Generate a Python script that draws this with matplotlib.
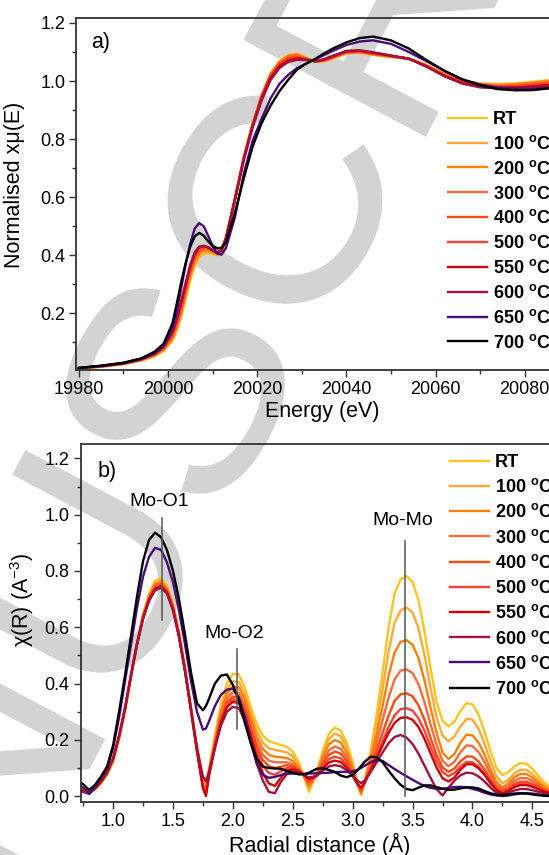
import numpy as np
import matplotlib

matplotlib.use("Agg")
import matplotlib.pyplot as plt
from matplotlib.ticker import MultipleLocator
from matplotlib.textpath import TextPath
from matplotlib.font_manager import FontProperties
from matplotlib.patches import PathPatch
from matplotlib.transforms import Affine2D

plt.rcParams["font.family"] = ["Liberation Sans", "DejaVu Sans"]
plt.rcParams["mathtext.fontset"] = "custom"
plt.rcParams["mathtext.rm"] = "Liberation Sans"
plt.rcParams["mathtext.bf"] = "Liberation Sans:bold"
plt.rcParams["mathtext.it"] = "Liberation Sans:italic"

# Series names and colours
labels = ["RT", "100", "200", "300", "400", "500", "550", "600", "650", "700"]
colors = ["#FFC41F", "#FFA936", "#FF8000", "#FF6A3D", "#FF4A10",
          "#FF4136", "#D00000", "#A3123F", "#4B0A78", "#000000"]

# ---- a) XANES ----
energy = [19980, 19985, 19990, 19994, 19997, 19999,
          20001, 20002, 20003, 20004, 20005, 20006, 20007, 20008, 20009, 20010, 20011, 20012, 20013,
          20015, 20017, 20019, 20021, 20023, 20025, 20027, 20029, 20031, 20033, 20035, 20037,
          20040, 20043, 20046,
          20050, 20054, 20058, 20062, 20066, 20070, 20074, 20078, 20082, 20086, 20090]

xanes_rt = [0.010, 0.016, 0.025, 0.037, 0.052, 0.070,
            0.105, 0.140, 0.190, 0.250, 0.315, 0.362, 0.392, 0.405, 0.408, 0.404, 0.400, 0.408, 0.450,
            0.585, 0.730, 0.850, 0.950, 1.025, 1.068, 1.090, 1.095, 1.080, 1.068, 1.068, 1.078,
            1.095, 1.097, 1.090,
            1.082, 1.077, 1.055, 1.025, 1.002, 0.992, 0.990, 0.992, 0.998, 1.004, 1.008]
xanes_100 = [0.010, 0.016, 0.026, 0.038, 0.054, 0.073,
             0.110, 0.147, 0.198, 0.260, 0.325, 0.370, 0.398, 0.410, 0.412, 0.407, 0.402, 0.410, 0.452,
             0.587, 0.732, 0.851, 0.950, 1.024, 1.067, 1.089, 1.093, 1.079, 1.067, 1.068, 1.079,
             1.096, 1.098, 1.091,
             1.083, 1.077, 1.055, 1.024, 1.001, 0.990, 0.988, 0.990, 0.996, 1.002, 1.006]
xanes_200 = [0.011, 0.017, 0.026, 0.039, 0.055, 0.075,
             0.115, 0.153, 0.205, 0.268, 0.333, 0.378, 0.405, 0.416, 0.417, 0.411, 0.405, 0.413, 0.455,
             0.590, 0.734, 0.852, 0.950, 1.023, 1.065, 1.087, 1.091, 1.078, 1.067, 1.069, 1.080,
             1.097, 1.099, 1.092,
             1.084, 1.077, 1.054, 1.023, 1.000, 0.989, 0.986, 0.988, 0.994, 1.000, 1.004]
xanes_300 = [0.011, 0.017, 0.027, 0.040, 0.057, 0.077,
             0.120, 0.160, 0.213, 0.276, 0.340, 0.385, 0.411, 0.421, 0.421, 0.414, 0.407, 0.415, 0.457,
             0.592, 0.735, 0.852, 0.949, 1.021, 1.063, 1.084, 1.088, 1.077, 1.067, 1.070, 1.081,
             1.098, 1.100, 1.093,
             1.085, 1.077, 1.053, 1.022, 0.999, 0.987, 0.984, 0.985, 0.991, 0.997, 1.001]
xanes_400 = [0.011, 0.018, 0.027, 0.041, 0.058, 0.079,
             0.124, 0.166, 0.220, 0.284, 0.347, 0.392, 0.417, 0.426, 0.425, 0.417, 0.409, 0.417, 0.459,
             0.593, 0.735, 0.851, 0.947, 1.018, 1.060, 1.080, 1.085, 1.076, 1.067, 1.071, 1.082,
             1.099, 1.101, 1.094,
             1.086, 1.077, 1.052, 1.021, 0.997, 0.985, 0.982, 0.983, 0.988, 0.994, 0.998]
xanes_500 = [0.011, 0.018, 0.028, 0.042, 0.059, 0.081,
             0.128, 0.172, 0.227, 0.291, 0.353, 0.398, 0.421, 0.429, 0.427, 0.418, 0.410, 0.418, 0.460,
             0.594, 0.735, 0.850, 0.945, 1.015, 1.057, 1.077, 1.082, 1.075, 1.067, 1.072, 1.083,
             1.100, 1.102, 1.095,
             1.086, 1.077, 1.051, 1.019, 0.995, 0.983, 0.980, 0.981, 0.985, 0.991, 0.995]
xanes_550 = [0.012, 0.019, 0.028, 0.043, 0.061, 0.084,
             0.134, 0.180, 0.236, 0.300, 0.361, 0.405, 0.427, 0.432, 0.428, 0.418, 0.410, 0.418, 0.460,
             0.593, 0.733, 0.847, 0.941, 1.011, 1.052, 1.072, 1.078, 1.074, 1.068, 1.074, 1.085,
             1.102, 1.104, 1.097,
             1.087, 1.077, 1.050, 1.018, 0.993, 0.981, 0.978, 0.978, 0.982, 0.987, 0.991]
xanes_600 = [0.012, 0.019, 0.029, 0.044, 0.063, 0.087,
             0.140, 0.188, 0.245, 0.308, 0.368, 0.410, 0.430, 0.433, 0.427, 0.416, 0.408, 0.416, 0.457,
             0.588, 0.727, 0.840, 0.933, 1.003, 1.045, 1.066, 1.073, 1.072, 1.068, 1.075, 1.087,
             1.104, 1.106, 1.099,
             1.088, 1.077, 1.049, 1.016, 0.991, 0.978, 0.975, 0.975, 0.978, 0.983, 0.987]
xanes_650 = [0.012, 0.018, 0.028, 0.042, 0.062, 0.088,
             0.148, 0.210, 0.290, 0.370, 0.440, 0.492, 0.511, 0.500, 0.468, 0.432, 0.406, 0.402, 0.425,
             0.530, 0.680, 0.795, 0.870, 0.940, 0.990, 1.022, 1.045, 1.060, 1.075, 1.090, 1.104,
             1.124, 1.136, 1.140,
             1.128, 1.100, 1.068, 1.035, 1.006, 0.988, 0.977, 0.973, 0.973, 0.976, 0.980]
xanes_700 = [0.012, 0.020, 0.030, 0.045, 0.068, 0.095,
             0.165, 0.235, 0.310, 0.375, 0.430, 0.465, 0.477, 0.468, 0.448, 0.432, 0.424, 0.426, 0.445,
             0.545, 0.665, 0.775, 0.855, 0.915, 0.965, 1.005, 1.040, 1.060, 1.076, 1.095, 1.112,
             1.133, 1.148, 1.153,
             1.140, 1.112, 1.072, 1.035, 1.005, 0.985, 0.972, 0.968, 0.969, 0.976, 0.982]

# ---- b) EXAFS Fourier transform ----
radial = [0.70, 0.75, 0.80, 0.85, 0.90, 0.95, 1.00, 1.05, 1.10, 1.15,
          1.20, 1.25, 1.30, 1.35, 1.40, 1.45, 1.50, 1.55, 1.60, 1.65,
          1.70, 1.75, 1.775, 1.80, 1.85, 1.90, 1.95, 2.00, 2.05, 2.10,
          2.15, 2.20, 2.25, 2.30, 2.35, 2.40, 2.45, 2.50, 2.55, 2.60,
          2.635, 2.70, 2.75, 2.80, 2.85, 2.90, 2.95, 3.00, 3.04, 3.07,
          3.10, 3.15, 3.20, 3.25, 3.30, 3.35, 3.40, 3.45, 3.50, 3.55,
          3.60, 3.65, 3.70, 3.75, 3.80, 3.85, 3.90, 3.95, 4.00, 4.05,
          4.10, 4.15, 4.20, 4.25, 4.30, 4.35, 4.40, 4.45, 4.50, 4.55,
          4.60, 4.65, 4.70]

ft_rt = [0.030, 0.025, 0.015, 0.025, 0.045, 0.075, 0.120, 0.200, 0.300, 0.420,
         0.540, 0.645, 0.720, 0.765, 0.775, 0.748, 0.685, 0.585, 0.460, 0.320,
         0.180, 0.060, 0.035, 0.095, 0.215, 0.325, 0.400, 0.435, 0.432, 0.385,
         0.315, 0.255, 0.215, 0.195, 0.188, 0.182, 0.175, 0.158, 0.120, 0.062,
         0.015, 0.085, 0.160, 0.220, 0.243, 0.233, 0.190, 0.120, 0.050, 0.003,
         0.055, 0.160, 0.290, 0.440, 0.600, 0.720, 0.770, 0.782, 0.760, 0.695,
         0.585, 0.455, 0.335, 0.268, 0.248, 0.265, 0.302, 0.330, 0.326, 0.290,
         0.230, 0.160, 0.100, 0.075, 0.085, 0.105, 0.117, 0.115, 0.097, 0.072,
         0.048, 0.032, 0.022]
ft_100 = [0.030, 0.024, 0.016, 0.027, 0.048, 0.078, 0.125, 0.205, 0.305, 0.425,
          0.542, 0.642, 0.715, 0.758, 0.768, 0.742, 0.680, 0.580, 0.455, 0.315,
          0.175, 0.050, 0.025, 0.090, 0.205, 0.310, 0.378, 0.408, 0.405, 0.362,
          0.295, 0.232, 0.190, 0.170, 0.164, 0.160, 0.155, 0.142, 0.110, 0.062,
          0.025, 0.080, 0.148, 0.202, 0.222, 0.213, 0.173, 0.110, 0.048, 0.006,
          0.052, 0.145, 0.255, 0.380, 0.515, 0.615, 0.660, 0.670, 0.652, 0.595,
          0.500, 0.385, 0.280, 0.215, 0.195, 0.212, 0.248, 0.274, 0.272, 0.240,
          0.188, 0.125, 0.070, 0.046, 0.057, 0.080, 0.094, 0.093, 0.078, 0.058,
          0.038, 0.025, 0.017]
ft_200 = [0.028, 0.023, 0.017, 0.028, 0.050, 0.080, 0.128, 0.208, 0.308, 0.428,
          0.543, 0.640, 0.710, 0.752, 0.762, 0.737, 0.676, 0.577, 0.452, 0.312,
          0.172, 0.045, 0.020, 0.085, 0.195, 0.298, 0.362, 0.389, 0.386, 0.343,
          0.275, 0.210, 0.168, 0.147, 0.140, 0.138, 0.135, 0.125, 0.100, 0.065,
          0.035, 0.077, 0.137, 0.183, 0.199, 0.191, 0.155, 0.100, 0.045, 0.010,
          0.050, 0.130, 0.220, 0.320, 0.428, 0.510, 0.548, 0.554, 0.538, 0.490,
          0.410, 0.315, 0.225, 0.155, 0.132, 0.150, 0.190, 0.218, 0.216, 0.190,
          0.148, 0.095, 0.050, 0.031, 0.045, 0.067, 0.079, 0.078, 0.066, 0.048,
          0.031, 0.020, 0.014]
ft_300 = [0.027, 0.022, 0.018, 0.030, 0.052, 0.082, 0.130, 0.210, 0.310, 0.430,
          0.543, 0.638, 0.706, 0.747, 0.757, 0.733, 0.672, 0.574, 0.450, 0.310,
          0.168, 0.040, 0.015, 0.082, 0.188, 0.285, 0.346, 0.369, 0.366, 0.324,
          0.256, 0.190, 0.147, 0.126, 0.120, 0.120, 0.120, 0.113, 0.095, 0.068,
          0.045, 0.075, 0.125, 0.162, 0.176, 0.168, 0.138, 0.090, 0.043, 0.015,
          0.048, 0.115, 0.190, 0.270, 0.350, 0.415, 0.446, 0.450, 0.437, 0.397,
          0.333, 0.255, 0.182, 0.125, 0.106, 0.122, 0.156, 0.180, 0.178, 0.157,
          0.122, 0.078, 0.040, 0.023, 0.036, 0.054, 0.064, 0.064, 0.054, 0.040,
          0.026, 0.017, 0.012]
ft_400 = [0.026, 0.021, 0.019, 0.031, 0.054, 0.084, 0.132, 0.212, 0.312, 0.431,
          0.543, 0.636, 0.702, 0.742, 0.752, 0.729, 0.668, 0.571, 0.448, 0.308,
          0.165, 0.035, 0.010, 0.078, 0.182, 0.276, 0.333, 0.354, 0.350, 0.308,
          0.240, 0.173, 0.128, 0.106, 0.100, 0.104, 0.110, 0.106, 0.092, 0.070,
          0.050, 0.073, 0.115, 0.146, 0.158, 0.151, 0.124, 0.082, 0.042, 0.020,
          0.047, 0.102, 0.163, 0.225, 0.286, 0.338, 0.362, 0.365, 0.355, 0.322,
          0.270, 0.207, 0.147, 0.102, 0.086, 0.098, 0.123, 0.141, 0.140, 0.123,
          0.095, 0.060, 0.030, 0.016, 0.027, 0.043, 0.051, 0.051, 0.043, 0.032,
          0.021, 0.014, 0.010]
ft_500 = [0.025, 0.020, 0.019, 0.032, 0.055, 0.086, 0.134, 0.214, 0.313, 0.432,
          0.542, 0.634, 0.699, 0.738, 0.748, 0.726, 0.665, 0.569, 0.446, 0.306,
          0.163, 0.033, 0.008, 0.076, 0.178, 0.270, 0.325, 0.344, 0.340, 0.297,
          0.227, 0.157, 0.108, 0.082, 0.076, 0.088, 0.100, 0.100, 0.090, 0.072,
          0.055, 0.072, 0.105, 0.131, 0.140, 0.134, 0.111, 0.076, 0.042, 0.025,
          0.047, 0.093, 0.143, 0.195, 0.246, 0.287, 0.309, 0.312, 0.304, 0.276,
          0.232, 0.177, 0.125, 0.085, 0.071, 0.082, 0.105, 0.121, 0.120, 0.105,
          0.081, 0.050, 0.024, 0.011, 0.022, 0.037, 0.044, 0.044, 0.037, 0.027,
          0.018, 0.012, 0.008]
ft_550 = [0.022, 0.018, 0.012, 0.028, 0.052, 0.085, 0.134, 0.214, 0.313, 0.431,
          0.541, 0.632, 0.697, 0.736, 0.745, 0.724, 0.664, 0.569, 0.446, 0.306,
          0.160, 0.028, 0.000, 0.070, 0.172, 0.262, 0.316, 0.335, 0.330, 0.286,
          0.212, 0.137, 0.082, 0.045, 0.036, 0.065, 0.090, 0.095, 0.088, 0.073,
          0.060, 0.072, 0.098, 0.119, 0.126, 0.121, 0.101, 0.072, 0.043, 0.030,
          0.048, 0.090, 0.135, 0.180, 0.225, 0.260, 0.278, 0.280, 0.271, 0.245,
          0.203, 0.152, 0.102, 0.063, 0.052, 0.066, 0.094, 0.113, 0.113, 0.099,
          0.076, 0.046, 0.021, 0.009, 0.019, 0.032, 0.039, 0.039, 0.033, 0.024,
          0.016, 0.010, 0.007]
ft_600 = [0.020, 0.015, 0.008, 0.026, 0.050, 0.083, 0.132, 0.212, 0.311, 0.429,
          0.539, 0.629, 0.693, 0.731, 0.740, 0.719, 0.660, 0.566, 0.445, 0.308,
          0.170, 0.070, 0.052, 0.085, 0.170, 0.250, 0.300, 0.317, 0.312, 0.268,
          0.193, 0.115, 0.055, 0.015, 0.010, 0.050, 0.078, 0.087, 0.084, 0.074,
          0.066, 0.072, 0.090, 0.105, 0.110, 0.106, 0.092, 0.072, 0.054, 0.046,
          0.055, 0.085, 0.120, 0.155, 0.188, 0.210, 0.217, 0.208, 0.185, 0.150,
          0.108, 0.065, 0.025, 0.002, 0.030, 0.055, 0.074, 0.083, 0.081, 0.070,
          0.052, 0.030, 0.012, 0.005, 0.012, 0.020, 0.025, 0.025, 0.021, 0.015,
          0.010, 0.006, 0.004]
ft_650 = [0.040, 0.030, 0.008, 0.035, 0.065, 0.100, 0.170, 0.280, 0.410, 0.540,
          0.670, 0.780, 0.850, 0.882, 0.875, 0.830, 0.760, 0.660, 0.540, 0.410,
          0.300, 0.236, 0.240, 0.265, 0.320, 0.360, 0.378, 0.382, 0.350, 0.280,
          0.190, 0.115, 0.075, 0.065, 0.068, 0.075, 0.080, 0.080, 0.079, 0.079,
          0.080, 0.081, 0.082, 0.083, 0.085, 0.086, 0.086, 0.088, 0.093, 0.100,
          0.108, 0.120, 0.128, 0.125, 0.110, 0.096, 0.083, 0.070, 0.058, 0.046,
          0.036, 0.029, 0.026, 0.026, 0.029, 0.032, 0.033, 0.031, 0.026, 0.020,
          0.012, 0.006, 0.002, 0.000, 0.002, 0.006, 0.009, 0.010, 0.009, 0.006,
          0.003, 0.001, 0.000]
ft_700 = [0.057, 0.042, 0.022, 0.040, 0.070, 0.105, 0.180, 0.300, 0.430, 0.570,
          0.710, 0.835, 0.910, 0.936, 0.920, 0.874, 0.800, 0.700, 0.575, 0.440,
          0.330, 0.305, 0.320, 0.345, 0.400, 0.428, 0.432, 0.395, 0.340, 0.260,
          0.187, 0.133, 0.105, 0.100, 0.098, 0.097, 0.090, 0.083, 0.077, 0.078,
          0.083, 0.097, 0.099, 0.093, 0.086, 0.073, 0.067, 0.075, 0.092, 0.106,
          0.122, 0.140, 0.138, 0.120, 0.090, 0.063, 0.040, 0.025, 0.021, 0.030,
          0.038, 0.038, 0.032, 0.026, 0.022, 0.023, 0.027, 0.031, 0.031, 0.027,
          0.018, 0.010, 0.005, 0.004, 0.006, 0.009, 0.010, 0.009, 0.006, 0.003,
          0.001, 0.000, 0.000]

# shell annotations: name, R, line bottom, line top, label y
shells = [("Mo-O1", 1.408, 0.625, 0.987, 1.046),
          ("Mo-O2", 2.035, 0.237, 0.521, 0.578),
          ("Mo-Mo", 3.437, 0.0, 0.907, 0.978)]

# journal watermark running diagonally behind the plots
watermark = "MANUSCRIPT"


def legend_label(name):
    if name == "RT":
        return "RT"
    return name + r" $^{\mathbf{o}}$C"


def style_axes(ax):
    for side in ["left", "bottom", "top"]:
        ax.spines[side].set_color("#333333")
        ax.spines[side].set_linewidth(1.3)
    ax.spines["right"].set_visible(False)
    ax.tick_params(which="both", direction="out", top=False, right=False,
                   labelsize=13, width=1.0, color="#333333")
    ax.tick_params(which="major", length=5, pad=3)
    ax.tick_params(which="minor", length=3)
    ax.set_facecolor("none")


def add_watermark(fig, H):
    # big grey letters; the "C" is centred on the ring seen in panel a
    fp = FontProperties(family="Liberation Sans")
    em = 300
    path = TextPath((0, 0), watermark, size=em, prop=fp)
    head = watermark[:watermark.index("C") + 1]
    c_right = TextPath((0, 0), head, size=em, prop=fp).get_extents().x1
    c_box = TextPath((0, 0), "C", size=em, prop=fp).get_extents()
    cx = c_right - c_box.width / 2
    cy = (c_box.y0 + c_box.y1) / 2
    tr = Affine2D().translate(-cx, -cy).rotate_deg(62).translate(273, H - 204)
    patch = PathPatch(path, transform=tr, facecolor="#D3D3D3",
                      edgecolor="none", zorder=-10)
    fig.add_artist(patch)


def main():
    xanes = [xanes_rt, xanes_100, xanes_200, xanes_300, xanes_400,
             xanes_500, xanes_550, xanes_600, xanes_650, xanes_700]
    ft = [ft_rt, ft_100, ft_200, ft_300, ft_400,
          ft_500, ft_550, ft_600, ft_650, ft_700]

    W, H = 549, 855
    fig = plt.figure(figsize=(W / 100, H / 100), dpi=100)

    add_watermark(fig, H)

    leg_prop = {"weight": "bold", "size": 13}

    # a) XANES
    ax1 = fig.add_axes([76.3 / W, 1 - 370 / H, (568 - 76.3) / W, 352 / H])
    for y, name, c in zip(xanes, labels, colors):
        ax1.plot(energy, y, color=c, lw=1.7, label=legend_label(name))
    ax1.set_xlim(19979.45, 20089.7)
    ax1.set_ylim(0.005, 1.217)
    ax1.xaxis.set_major_locator(MultipleLocator(20))
    ax1.xaxis.set_minor_locator(MultipleLocator(10))
    ax1.yaxis.set_major_locator(MultipleLocator(0.2))
    ax1.yaxis.set_minor_locator(MultipleLocator(0.1))
    ax1.set_xlabel("Energy (eV)", fontsize=15.5, labelpad=2)
    ax1.set_ylabel("Normalised xμ(E)", fontsize=15.5)
    ax1.yaxis.set_label_coords(-0.105, 0.525)
    ax1.text(0.05, 0.929, "a)", transform=ax1.transAxes, fontsize=15.5,
             ha="center", va="center")
    style_axes(ax1)
    ax1.legend(loc="upper left", bbox_to_anchor=(447.7 / W, 1 - 111 / H),
               bbox_transform=fig.transFigure, frameon=False, prop=leg_prop,
               handlelength=2.15, handletextpad=0.35, labelspacing=0.38,
               borderpad=0, borderaxespad=0)

    # b) Fourier transform
    ax2 = fig.add_axes([80.5 / W, 1 - 801.7 / H, (558 - 80.5) / W, 357.4 / H])
    for y, name, c in zip(ft, labels, colors):
        ax2.plot(radial, y, color=c, lw=1.7, label=legend_label(name))
    for name, r, y0, y1, ylab in shells:
        ax2.plot([r, r], [y0, y1], color="#555555", lw=1.1)
        ax2.text(r - 0.02, ylab, name, fontsize=14, ha="center", va="center")
    ax2.set_xlim(0.728, 4.714)
    ax2.set_ylim(-0.02, 1.25)
    ax2.xaxis.set_major_locator(MultipleLocator(0.5))
    ax2.xaxis.set_minor_locator(MultipleLocator(0.25))
    ax2.yaxis.set_major_locator(MultipleLocator(0.2))
    ax2.yaxis.set_minor_locator(MultipleLocator(0.1))
    ax2.set_xlabel("Radial distance (Å)", fontsize=15.5, labelpad=2)
    ax2.set_ylabel("χ(R) (A$^{-3}$)", fontsize=15.5)
    ax2.yaxis.set_label_coords(-0.093, 0.565)
    ax2.text(0.0555, 0.925, "b)", transform=ax2.transAxes, fontsize=15.5,
             ha="center", va="center")
    style_axes(ax2)
    ax2.legend(loc="upper left", bbox_to_anchor=(450 / W, 1 - 454 / H),
               bbox_transform=fig.transFigure, frameon=False, prop=leg_prop,
               handlelength=2.15, handletextpad=0.35, labelspacing=0.4,
               borderpad=0, borderaxespad=0)

    fig.savefig("out.png", dpi=100)
    plt.close(fig)


if __name__ == "__main__":
    main()
